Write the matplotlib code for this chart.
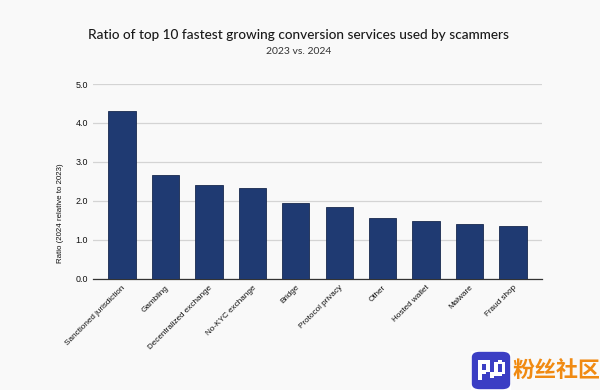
import matplotlib
matplotlib.use("Agg")
import matplotlib.pyplot as plt
from matplotlib.patches import FancyBboxPatch, Rectangle

categories = ["Sanctioned jurisdiction", "Gambling", "Decentralized exchange", "No-KYC exchange",
              "Bridge", "Protocol privacy", "Other", "Hosted wallet", "Malware", "Fraud shop"]
ratios = [4.30, 2.67, 2.40, 2.33, 1.93, 1.84, 1.56, 1.49, 1.41, 1.34]
y_ticks = [0, 1, 2, 3, 4, 5]

BG = "#f9f9f9"
W, H = 600, 390

fig = plt.figure(figsize=(W / 100, H / 100), dpi=100, facecolor=BG)
ax = fig.add_axes([93 / W, 1 - 278.5 / H, 449 / W, 194.5 / H], facecolor=BG)

ax.bar(range(len(ratios)), ratios, width=0.63, color="#1f3a72", edgecolor="#18294f", linewidth=0.6, zorder=3)
ax.set_xlim(-0.668, 9.668)
ax.set_ylim(0, 5)
ax.set_yticks(y_ticks)
ax.set_yticklabels([f"{v:.1f}" for v in y_ticks], fontsize=6.4, family="Liberation Sans", color="#111111")
ax.set_xticks(range(len(categories)))
ax.set_xticklabels(categories, rotation=45, ha="right", rotation_mode="anchor", fontsize=5.9,
                   family="Liberation Sans", color="#111111")
ax.tick_params(axis="both", length=0)
ax.tick_params(axis="x", pad=4)
ax.tick_params(axis="y", pad=3.5)
ax.grid(axis="y", color="#d4d4d4", linewidth=0.9, zorder=0)
ax.set_axisbelow(True)
for s in ["top", "right", "left"]:
    ax.spines[s].set_visible(False)
ax.spines["bottom"].set_color("#333333")
ax.spines["bottom"].set_linewidth(0.9)
ax.set_ylabel("Ratio (2024 relative to 2023)", fontsize=5.7, family="Liberation Sans", color="#111111")
ax.yaxis.set_label_coords(-0.0646, 0.334)

fig.text(298 / W, 1 - 35 / H, "Ratio of top 10 fastest growing conversion services used by scammers",
         ha="center", va="center", fontsize=9.8, family="Lato", fontweight="medium", color="#1a1a1a")
fig.text(298.5 / W, 1 - 51.5 / H, "2023 vs. 2024", ha="center", va="center", fontsize=7.5,
         family="Lato", color="#333333")


def logo_rect(x0, y0, x1, y1, color="white", zorder=7):
    # pixel box measured from the top left corner of the picture
    fig.add_artist(Rectangle((x0 / W, 1 - y1 / H), (x1 - x0) / W, (y1 - y0) / H,
                             transform=fig.transFigure, color=color, zorder=zorder, linewidth=0))


# watermark, bottom right corner
logo_rect(471, 351, 511, 390, zorder=5)
fig.add_artist(FancyBboxPatch((472.5 / W, 1.5 / H), 37 / W, 36 / H, boxstyle="round,pad=0,rounding_size=0.012",
                              transform=fig.transFigure, color="#3b3ec4", zorder=6))
for box in [(478, 360, 482, 380), (482, 360, 490, 364), (486, 364, 490, 372), (482, 370, 486, 374),
            (490, 372, 494, 378), (494, 362, 498, 376), (498, 360, 502, 364), (502, 362, 505, 374),
            (498, 372, 502, 376)]:
    logo_rect(*box)
fig.text(556 / W, 20 / H, "粉丝社区", ha="center", va="center", fontsize=15.8, fontweight="bold",
         family="Noto Sans CJK SC", color="#f08a12", zorder=8)

fig.savefig("out.png", dpi=100, facecolor=BG)
